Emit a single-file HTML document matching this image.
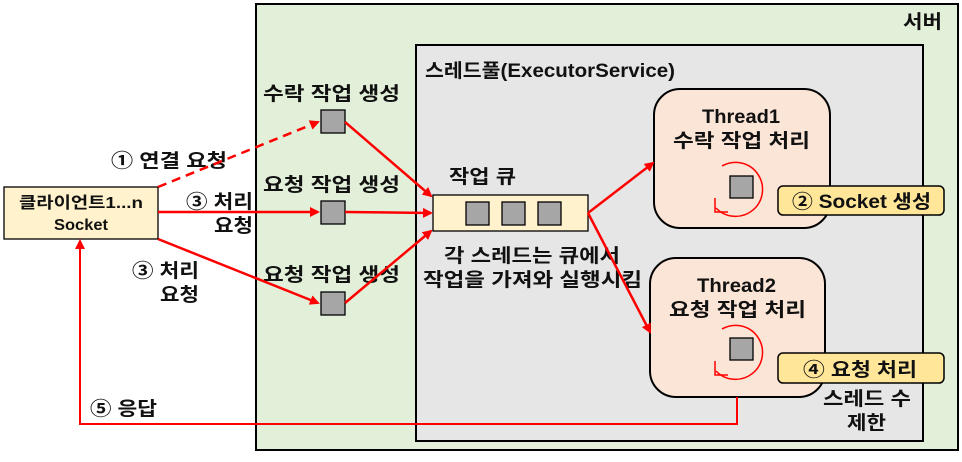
<!DOCTYPE html>
<html><head><meta charset="utf-8"><style>
body{margin:0;background:#fff}
text{font-family:"Liberation Sans","Noto Sans CJK KR",sans-serif;font-weight:bold;fill:#111}
</style></head><body>
<svg width="962" height="457" viewBox="0 0 962 457" xmlns="http://www.w3.org/2000/svg">
<defs>
<marker id="a" markerWidth="10" markerHeight="10" refX="8" refY="5" orient="auto" markerUnits="userSpaceOnUse">
<path d="M0,0 L10,5 L0,10 z" fill="#f00"/></marker>
</defs>
<rect x="256" y="4" width="702" height="446" fill="#e2efd9" stroke="#000" stroke-width="2"/>
<text x="903" y="28" font-size="19" textLength="39" lengthAdjust="spacingAndGlyphs">서버</text>
<rect x="416" y="45" width="507" height="396" fill="#e7e6e6" stroke="#000" stroke-width="2"/>
<text x="425" y="77" font-size="19" textLength="250" lengthAdjust="spacingAndGlyphs">스레드풀(ExecutorService)</text>

<rect x="4" y="187" width="154" height="52" fill="#fff2cc" stroke="#000" stroke-width="1.3"/>
<text x="19" y="208" font-size="16" textLength="124" lengthAdjust="spacingAndGlyphs">클라이언트1...n</text>
<text x="54" y="230" font-size="16" textLength="54" lengthAdjust="spacingAndGlyphs">Socket</text>

<g font-size="19">
<text x="263" y="100" textLength="137" lengthAdjust="spacingAndGlyphs">수락 작업 생성</text>
<text x="263" y="191" textLength="137" lengthAdjust="spacingAndGlyphs">요청 작업 생성</text>
<text x="263" y="281" textLength="137" lengthAdjust="spacingAndGlyphs">요청 작업 생성</text>
<text x="449" y="183" textLength="67" lengthAdjust="spacingAndGlyphs">작업 큐</text>
<text x="444" y="262" textLength="176" lengthAdjust="spacingAndGlyphs">각 스레드는 큐에서</text>
<text x="423" y="286" textLength="219" lengthAdjust="spacingAndGlyphs">작업을 가져와 실행시킴</text>
<text x="823" y="405" textLength="88" lengthAdjust="spacingAndGlyphs">스레드 수</text>
<text x="847" y="429" textLength="39" lengthAdjust="spacingAndGlyphs">제한</text>
<text x="111" y="167" textLength="116" lengthAdjust="spacingAndGlyphs">① 연결 요청</text>
<text x="186" y="208" textLength="67" lengthAdjust="spacingAndGlyphs">③ 처리</text>
<text x="214" y="232" textLength="39" lengthAdjust="spacingAndGlyphs">요청</text>
<text x="132" y="277" textLength="67" lengthAdjust="spacingAndGlyphs">③ 처리</text>
<text x="160" y="301" textLength="39" lengthAdjust="spacingAndGlyphs">요청</text>
<text x="90" y="415" textLength="67" lengthAdjust="spacingAndGlyphs">⑤ 응답</text>
</g>

<g fill="#a6a6a6" stroke="#000" stroke-width="1.3">
<rect x="321" y="110" width="24" height="23"/>
<rect x="321" y="201" width="24" height="23"/>
<rect x="321" y="292" width="24" height="23"/>
</g>
<rect x="433" y="195" width="155" height="36" fill="#fff2cc" stroke="#000" stroke-width="1.3"/>
<g fill="#a6a6a6" stroke="#000" stroke-width="1.3">
<rect x="466" y="202" width="23" height="23"/>
<rect x="502" y="202" width="23" height="23"/>
<rect x="538" y="202" width="23" height="23"/>
</g>

<rect x="654" y="89" width="176" height="139" rx="26" fill="#fbe5d6" stroke="#000" stroke-width="2"/>
<rect x="650" y="258" width="175" height="139" rx="26" fill="#fbe5d6" stroke="#000" stroke-width="2"/>
<g font-size="19">
<text x="702" y="123" textLength="78" lengthAdjust="spacingAndGlyphs">Thread1</text>
<text x="673" y="147" textLength="137" lengthAdjust="spacingAndGlyphs">수락 작업 처리</text>
<text x="697" y="292" textLength="79" lengthAdjust="spacingAndGlyphs">Thread2</text>
<text x="669" y="316" textLength="137" lengthAdjust="spacingAndGlyphs">요청 작업 처리</text>
</g>
<rect x="730" y="176" width="23" height="22" fill="#a6a6a6" stroke="#000" stroke-width="1.3"/>
<rect x="730" y="338" width="23" height="22" fill="#a6a6a6" stroke="#000" stroke-width="1.3"/>
<path d="M722,166 A27,27 0 1 1 716,208" fill="none" stroke="#f00" stroke-width="1.5"/>
<path d="M715,198 L715,212 L728,212" fill="none" stroke="#f00" stroke-width="1.5"/>
<path d="M722,329 A27,27 0 1 1 716,371" fill="none" stroke="#f00" stroke-width="1.5"/>
<path d="M715,361 L715,375 L728,375" fill="none" stroke="#f00" stroke-width="1.5"/>

<rect x="778" y="186" width="166" height="29" rx="5" fill="#ffe699" stroke="#000" stroke-width="1.5"/>
<text x="792" y="208" font-size="19" textLength="139" lengthAdjust="spacingAndGlyphs">② Socket 생성</text>
<rect x="778" y="353" width="166" height="30" rx="5" fill="#ffe699" stroke="#000" stroke-width="1.5"/>
<text x="803" y="376" font-size="19" textLength="114" lengthAdjust="spacingAndGlyphs">④ 요청 처리</text>

<g stroke="#f00" stroke-width="2.5" fill="none">
<line x1="158" y1="187" x2="318" y2="122" stroke-dasharray="9,6" marker-end="url(#a)"/>
<line x1="158" y1="212" x2="318" y2="212" marker-end="url(#a)"/>
<line x1="158" y1="239" x2="318" y2="303" marker-end="url(#a)"/>
<line x1="345" y1="122" x2="431" y2="196" marker-end="url(#a)"/>
<line x1="345" y1="212" x2="431" y2="213" marker-end="url(#a)"/>
<line x1="345" y1="303" x2="431" y2="231" marker-end="url(#a)"/>
<line x1="588" y1="213" x2="653" y2="163" marker-end="url(#a)"/>
<line x1="588" y1="213" x2="650" y2="332" marker-end="url(#a)"/>
<polyline points="737,397 737,424 80,424 80,241" marker-end="url(#a)" stroke-width="2"/>
</g>
</svg>
</body></html>
